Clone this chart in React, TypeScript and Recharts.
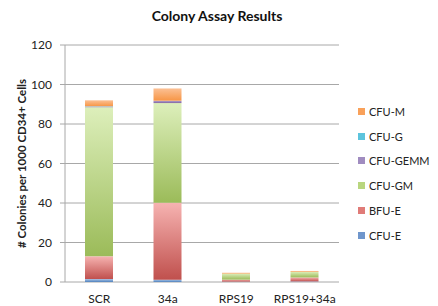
import React from 'react';
import { BarChart, Bar, XAxis, YAxis, CartesianGrid, Legend } from 'recharts';

const categories = ['SCR', '34a', 'RPS19', 'RPS19+34a'];
const cfuE = [1.5, 1.2, 0.2, 0.3];
const bfuE = [11.5, 38.9, 1, 2];
const cfuGM = [75.5, 50.5, 3.1, 2.9];
const cfuGEMM = [0.3, 1.2, 0, 0];
const cfuG = [0.2, 0, 0, 0];
const cfuM = [3, 6.2, 0.4, 0.4];
const yTicks = [0, 20, 40, 60, 80, 100, 120];

const seriesNames = ['CFU-E', 'BFU-E', 'CFU-GM', 'CFU-GEMM', 'CFU-G', 'CFU-M'];
const seriesKeys = ['cfuE', 'bfuE', 'cfuGM', 'cfuGEMM', 'cfuG', 'cfuM'];
const seriesTop = ['#a9c4e6', '#f6b3b1', '#ddefbb', '#b5a3cc', '#9fdcec', '#fbc094'];
const seriesBottom = ['#4f81bd', '#c0504d', '#9bbb59', '#8064a2', '#4bacc6', '#f79646'];
const seriesSwatch = ['#6f96cc', '#e07b78', '#b9d67f', '#a08cc0', '#5cc4dd', '#f9a15a'];

const data = categories.map((c, i) => ({
  name: c,
  cfuE: cfuE[i],
  bfuE: bfuE[i],
  cfuGM: cfuGM[i],
  cfuGEMM: cfuGEMM[i],
  cfuG: cfuG[i],
  cfuM: cfuM[i],
}));

const FONT = 'Lato, "Open Sans", sans-serif';

const renderLegend = () => {
  const idx = seriesNames.map((_, i) => i).reverse();
  return (
    <div style={{ fontFamily: FONT, fontSize: 11, color: '#222' }}>
      {idx.map((i) => (
        <div key={i} style={{ height: 24.8, display: 'flex', alignItems: 'center' }}>
          <span style={{ display: 'inline-block', width: 7, height: 7, background: seriesSwatch[i], marginRight: 4 }} />
          <span>{seriesNames[i]}</span>
        </div>
      ))}
    </div>
  );
};

export default function App() {
  return (
    <div style={{ position: 'absolute', left: 0, top: 0, width: 438, height: 306, background: '#fff' }}>
      <div
        style={{
          position: 'absolute',
          left: 0,
          top: 7,
          width: 434,
          textAlign: 'center',
          fontFamily: FONT,
          fontWeight: 700,
          fontSize: 14,
          color: '#111',
        }}
      >
        Colony Assay Results
      </div>
      <BarChart
        width={438}
        height={306}
        data={data}
        margin={{ top: 45, right: 99, left: 0, bottom: 0 }}
        barSize={28}
      >
        <defs>
          {seriesKeys.map((k, i) => (
            <linearGradient key={k} id={'g_' + k} x1="0" y1="0" x2="0" y2="1">
              <stop offset="0%" stopColor={seriesTop[i]} />
              <stop offset="100%" stopColor={seriesBottom[i]} />
            </linearGradient>
          ))}
        </defs>
        <CartesianGrid vertical={false} stroke="#a8a8a8" strokeWidth={1} />
        <XAxis
          xAxisId="t"
          type="number"
          domain={[0, 4]}
          ticks={[0, 1, 2, 3, 4]}
          height={0}
          tick={false}
          tickSize={5}
          tickLine={{ stroke: '#a8a8a8' }}
          axisLine={{ stroke: '#a8a8a8' }}
        />
        <XAxis
          dataKey="name"
          height={24}
          tickLine={false}
          axisLine={false}
          tick={{ fontFamily: FONT, fontSize: 12, fill: '#222' }}
          tickMargin={6}
          interval={0}
        />
        <YAxis
          width={65}
          domain={[0, 120]}
          ticks={yTicks}
          tickSize={5}
          tickMargin={8}
          tickLine={{ stroke: '#a8a8a8' }}
          axisLine={{ stroke: '#a8a8a8' }}
          tick={{ fontFamily: FONT, fontSize: 12, fill: '#222' }}
          label={{
            value: '# Colonies per 1000 CD34+ Cells',
            angle: -90,
            position: 'insideLeft',
            offset: 22,
            textAnchor: 'middle',
            style: { fontFamily: FONT, fontWeight: 700, fontSize: 11.5, fill: '#222' },
          }}
        />
        <Legend
          layout="vertical"
          align="center"
          verticalAlign="middle"
          content={renderLegend}
          wrapperStyle={{ left: 358, top: 99, width: 80 }}
        />
        {seriesKeys.map((k, i) => (
          <Bar
            key={k}
            dataKey={k}
            name={seriesNames[i]}
            stackId="a"
            fill={'url(#g_' + k + ')'}
            isAnimationActive={false}
          />
        ))}
      </BarChart>
    </div>
  );
}
